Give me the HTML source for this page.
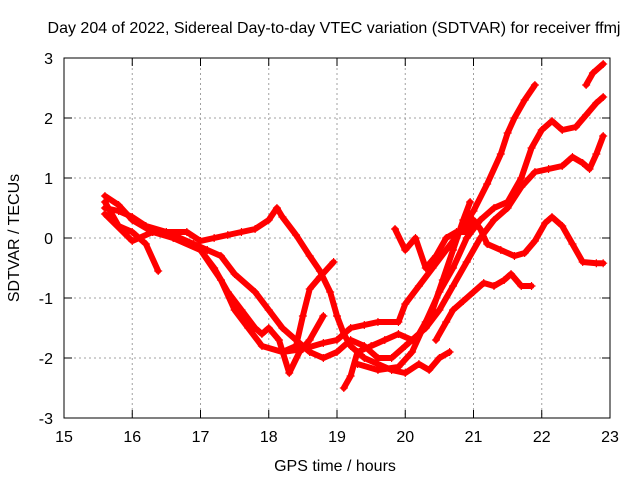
<!DOCTYPE html>
<html><head><meta charset="utf-8"><style>
body{margin:0;background:#fff}
svg{display:block;font-family:"Liberation Sans",sans-serif}
</style></head><body>
<svg id="chart" width="640" height="480" viewBox="0 0 640 480" xmlns="http://www.w3.org/2000/svg">
<rect width="640" height="480" fill="#fff"/>
<text x="334" y="33" text-anchor="middle" font-size="16">Day 204 of 2022, Sidereal Day-to-day VTEC variation (SDTVAR) for receiver ffmj</text>
<text x="335" y="471" text-anchor="middle" font-size="16">GPS time / hours</text>
<text transform="translate(19,238) rotate(-90)" text-anchor="middle" font-size="16">SDTVAR / TECUs</text>
<g id="grid"></g>
<g id="ticks"></g>
<g id="series"></g>
<rect x="64" y="58" width="546" height="360" fill="none" stroke="#000" stroke-width="1"/>
</svg>
<script>
const xTicks=[15,16,17,18,19,20,21,22,23];
const yTicks=[-3,-2,-1,0,1,2,3];
const t1x=[15.6,15.8,16.0,16.2,16.5,16.8,17.0,17.2,17.4,17.6,17.8,18.0,18.12,18.2,18.4,18.6,18.75,18.9,19.0,19.1,19.2,19.4,19.6,19.8,20.0,20.2,20.35,20.5,20.65];
const t1y=[0.5,0.45,0.35,0.2,0.1,0.1,-0.05,0.0,0.05,0.1,0.15,0.3,0.5,0.35,0.05,-0.3,-0.55,-0.9,-1.3,-1.6,-1.8,-2.0,-2.1,-2.2,-2.25,-2.1,-2.2,-2.0,-1.9];
const t2x=[18.2,18.4,18.5,18.6,18.75,18.95];
const t2y=[-1.9,-1.8,-1.3,-0.85,-0.65,-0.4];
const t3x=[15.6,15.8,16.0,16.3,16.6,17.0,17.3,17.5,17.7,17.9,18.2,18.5,18.8,19.0,19.2,19.4,19.6,19.9,20.0,20.2,20.4,20.6,20.8,21.0,21.2,21.4,21.5,21.6,21.75,21.9];
const t3y=[0.7,0.55,0.3,0.1,0.0,-0.2,-0.7,-1.2,-1.5,-1.8,-1.9,-1.85,-1.75,-1.7,-1.5,-1.45,-1.4,-1.4,-1.1,-0.8,-0.5,-0.2,0.1,0.45,0.9,1.4,1.75,2.0,2.3,2.55];
const t4x=[15.6,16.0,16.3,16.6,16.9,17.1,17.3,17.5,17.8,18.0,18.2,18.4,18.6,18.8,19.0,19.2,19.4,19.6,19.8,20.0,20.2,20.4,20.55,20.7,20.85,20.95];
const t4y=[0.4,-0.05,0.1,0.05,-0.1,-0.2,-0.3,-0.6,-0.9,-1.2,-1.5,-1.7,-1.9,-2.0,-1.9,-1.7,-1.8,-2.0,-2.0,-1.8,-1.6,-1.2,-0.7,-0.2,0.3,0.6];
const t5x=[15.6,15.8,16.0,16.2,16.38];
const t5y=[0.6,0.2,0.1,-0.1,-0.55];
const t6x=[16.4,17.0,17.2,17.4,17.6,17.8,17.9,18.0,18.15,18.3,18.45,18.6,18.8];
const t6y=[0.1,-0.2,-0.5,-0.9,-1.2,-1.5,-1.6,-1.5,-1.7,-2.25,-1.9,-1.7,-1.3];
const t7x=[19.1,19.2,19.3,19.5,19.7,19.9,20.1,20.3,20.5,20.7,20.9,21.1,21.3,21.5,21.7,21.9,22.1,22.3,22.45,22.6,22.7,22.8,22.9];
const t7y=[-2.5,-2.3,-1.9,-1.8,-1.7,-1.6,-1.7,-1.5,-1.2,-0.8,-0.4,0.0,0.3,0.5,0.85,1.1,1.15,1.2,1.35,1.25,1.15,1.4,1.7];
const t8x=[19.85,20.0,20.15,20.3,20.45,20.6,20.75,20.9,21.0,21.1,21.2,21.4,21.6,21.75,21.9,22.05,22.15,22.3,22.45,22.6,22.8,22.9];
const t8y=[0.15,-0.2,0.0,-0.5,-0.3,0.0,0.1,0.1,0.3,0.15,-0.1,-0.2,-0.3,-0.25,-0.05,0.25,0.35,0.2,-0.1,-0.4,-0.42,-0.42];
const t9x=[20.45,20.6,20.7,20.85,21.0,21.15,21.3,21.45,21.55,21.7,21.85];
const t9y=[-1.7,-1.4,-1.2,-1.05,-0.9,-0.75,-0.8,-0.7,-0.6,-0.8,-0.8];
const t10x=[19.3,19.6,19.9,20.1,20.3,20.5,20.7,20.9,21.1,21.3,21.5,21.7,21.85,22.0,22.15,22.3,22.5,22.65,22.8,22.9];
const t10y=[-2.1,-2.2,-2.15,-1.9,-1.4,-0.9,-0.5,0.0,0.3,0.5,0.6,1.0,1.5,1.8,1.95,1.8,1.85,2.05,2.25,2.35];
const t11x=[22.65,22.75,22.9];
const t11y=[2.55,2.75,2.9];
const tracks=[[t1x,t1y],[t2x,t2y],[t3x,t3y],[t4x,t4y],[t5x,t5y],[t6x,t6y],[t7x,t7y],[t8x,t8y],[t9x,t9y],[t10x,t10y],[t11x,t11y]];

const NS='http://www.w3.org/2000/svg';
const X=v=>64+(v-15)*546/8;
const Y=v=>238-v*60;
function mk(tag,attrs,parent){const e=document.createElementNS(NS,tag);for(const k in attrs)e.setAttribute(k,attrs[k]);parent.appendChild(e);return e;}
const grid=document.getElementById('grid'),ticks=document.getElementById('ticks'),ser=document.getElementById('series');
xTicks.forEach(t=>{
  const x=X(t);
  if(t>15&&t<23){const g=mk('line',{x1:x,x2:x,y1:58,y2:418,stroke:'#a0a0a0','stroke-dasharray':'2,3'},grid);
  
  }
  mk('line',{x1:x,x2:x,y1:418,y2:410,stroke:'#000'},ticks);
  mk('line',{x1:x,x2:x,y1:58,y2:66,stroke:'#000'},ticks);
  const l=mk('text',{x:x,y:442,'text-anchor':'middle','font-size':'16'},ticks);
  l.textContent=t;
  
  
});
yTicks.forEach(t=>{
  const y=Y(t);
  if(t>-3&&t<3){const g=mk('line',{x1:64,x2:610,y1:y,y2:y,stroke:'#a0a0a0','stroke-dasharray':'2,3'},grid);
  
  }
  mk('line',{x1:64,x2:72,y1:y,y2:y,stroke:'#000'},ticks);
  mk('line',{x1:610,x2:602,y1:y,y2:y,stroke:'#000'},ticks);
  const l=mk('text',{x:53,y:y+6,'text-anchor':'end','font-size':'16'},ticks);
  l.textContent=t;
  
  
});
tracks.forEach((tr,i)=>{
  const [xs,ys]=tr;
  const pts=xs.map((v,j)=>X(v)+','+Y(ys[j])).join(' ');
  const p=mk('polyline',{points:pts,fill:'none',stroke:'#ff0000','stroke-width':'6','stroke-linejoin':'round','stroke-linecap':'round'},ser);
  
  
  xs.forEach((v,j)=>{
    const cx=X(v),cy=Y(ys[j]);
    const m=mk('path',{d:`M${cx-4},${cy}H${cx+4}M${cx},${cy-4}V${cy+4}`,stroke:'#ff0000','stroke-width':'1.2'},ser);
    
    
  });
});
</script>
</body></html>
